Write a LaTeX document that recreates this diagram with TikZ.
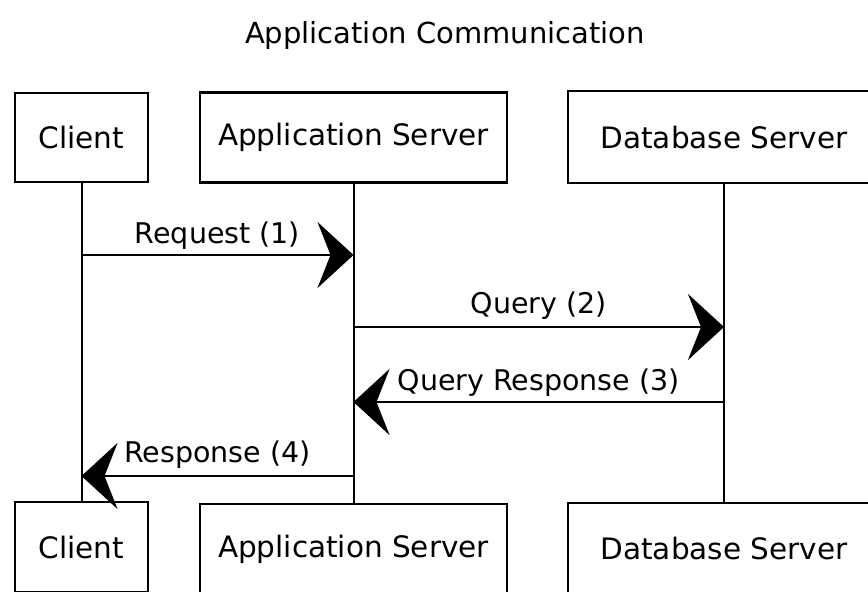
\documentclass[tikz,border=0pt]{standalone}
\usepackage{fontspec}
\setmainfont{DejaVu Sans}
\usetikzlibrary{arrows.meta}
\tikzset{
  actor/.style={draw=black, line width=2.8pt, fill=white, inner sep=0pt,
    font=\fontsize{29.5}{35}\selectfont},
  lifeline/.style={draw=black, line width=2pt},
  msg/.style={draw=black, line width=2.8pt,
    -{Stealth[length=36pt, width=66pt, inset=13pt]}},
  lbl/.style={anchor=base, inner sep=0pt, font=\fontsize{28.5}{34}\selectfont},
  ttl/.style={anchor=base, inner sep=0pt, font=\fontsize{29}{35}\selectfont}
}
\begin{document}
\begin{tikzpicture}[x=1pt, y=-1pt]
\useasboundingbox (0,0) rectangle (868,592);
\clip (0,0) rectangle (868,592);
\fill[white] (0,0) rectangle (868,592);

\node[ttl] (title) at (445,43) {Application Communication};

% top actors
\node[actor, minimum width=133pt, minimum height=89pt] (c1) at (81.5,137.5) {Client};
\node[actor, minimum width=307pt, minimum height=90pt] (a1) at (353.5,137.5) {Application Server};
\node[actor, minimum width=312pt, minimum height=92pt] (d1) at (724,137) {Database Server};

% bottom actors
\node[actor, minimum width=133pt, minimum height=90pt] (c2) at (81.5,547) {Client};
\node[actor, minimum width=307pt, minimum height=90pt] (a2) at (353.5,549) {Application Server};
\node[actor, minimum width=312pt, minimum height=90pt] (d2) at (724,548) {Database Server};

% lifelines
\draw[lifeline] (c1.south) -- (c2.north);
\draw[lifeline] (a1.south) -- (a2.north);
\draw[lifeline] (d1.south) -- (d2.north);

% message anchors on lifelines
\coordinate (m1s) at (81.5,255);
\coordinate (m1e) at (353.5,255);
\coordinate (m2s) at (353.5,327);
\coordinate (m2e) at (724,327);
\coordinate (m3s) at (724,402);
\coordinate (m3e) at (353.5,402);
\coordinate (m4s) at (353.5,476);
\coordinate (m4e) at (81.5,476);

\draw[msg] (m1s) -- node[lbl, midway, yshift=12pt] (l1) {Request (1)} (m1e);
\draw[msg] (m2s) -- node[lbl, midway, yshift=14pt] (l2) {Query (2)} (m2e);
\draw[msg] (m3s) -- node[lbl, midway, yshift=12pt] (l3) {Query Response (3)} (m3e);
\draw[msg] (m4s) -- node[lbl, midway, yshift=14pt] (l4) {Response (4)} (m4e);
\end{tikzpicture}
\end{document}
